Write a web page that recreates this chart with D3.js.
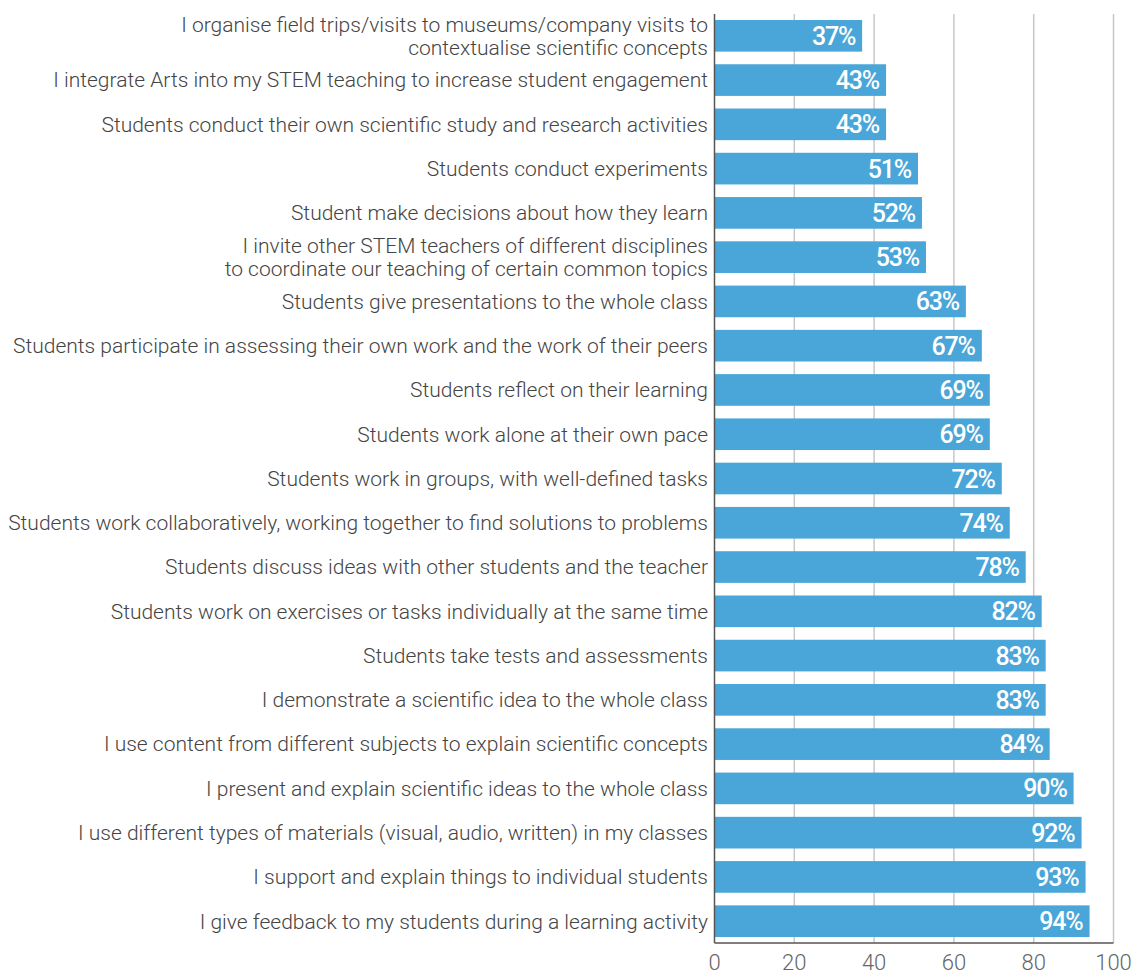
<!DOCTYPE html>
<html><head><meta charset="utf-8">
<script src="https://cdn.jsdelivr.net/npm/d3@7"></script>
<style>body{margin:0;background:#fff}svg{display:block}</style>
</head><body>
<svg id="c" width="1135" height="974"></svg>
<script>
const categories = [
  ["I organise field trips/visits to museums/company visits to","contextualise scientific concepts"],
  ["I integrate Arts into my STEM teaching to increase student engagement"],
  ["Students conduct their own scientific study and research activities"],
  ["Students conduct experiments"],
  ["Student make decisions about how they learn"],
  ["I invite other STEM teachers of different disciplines","to coordinate our teaching of certain common topics"],
  ["Students give presentations to the whole class"],
  ["Students participate in assessing their own work and the work of their peers"],
  ["Students reflect on their learning"],
  ["Students work alone at their own pace"],
  ["Students work in groups, with well-defined tasks"],
  ["Students work collaboratively, working together to find solutions to problems"],
  ["Students discuss ideas with other students and the teacher"],
  ["Students work on exercises or tasks individually at the same time"],
  ["Students take tests and assessments"],
  ["I demonstrate a scientific idea to the whole class"],
  ["I use content from different subjects to explain scientific concepts"],
  ["I present and explain scientific ideas to the whole class"],
  ["I use different types of materials (visual, audio, written) in my classes"],
  ["I support and explain things to individual students"],
  ["I give feedback to my students during a learning activity"]
];
const values = [37,43,43,51,52,53,63,67,69,69,72,74,78,82,83,83,84,90,92,93,94];
const ticks = [0,20,40,60,80,100];

const svg = d3.select("#c");
const x = d3.scaleLinear().domain([0,100]).range([714.5,1113.5]);
const y = d3.scaleBand().domain(d3.range(values.length)).range([14,943]).paddingInner(0.285).paddingOuter(0.135);

svg.append("g").selectAll("line").data(ticks.slice(1)).join("line")
  .attr("x1",d=>x(d)).attr("x2",d=>x(d)).attr("y1",14).attr("y2",943)
  .attr("stroke","#c8c8c8").attr("stroke-width",1.5);

svg.append("g").selectAll("rect").data(values).join("rect")
  .attr("x",x(0)).attr("y",(d,i)=>y(i)).attr("width",d=>x(d)-x(0)).attr("height",y.bandwidth())
  .attr("fill","#4aa6d8");

svg.append("g").selectAll("text").data(values).join("text")
  .attr("x",d=>x(d)-7).attr("y",(d,i)=>y(i)+y.bandwidth()/2)
  .attr("dy","0.36em").attr("text-anchor","end")
  .attr("fill","#fff").style("font-family","Roboto, sans-serif").style("font-weight",500)
  .style("font-size","25px").style("letter-spacing","-1.2px")
  .text(d=>d+"%");

svg.append("line").attr("x1",x(0)).attr("x2",x(0)).attr("y1",14).attr("y2",943).attr("stroke","#555").attr("stroke-width",1.5);
svg.append("line").attr("x1",x(0)).attr("x2",x(100)).attr("y1",943).attr("y2",943).attr("stroke","#555").attr("stroke-width",1.5);

svg.append("g").selectAll("text").data(ticks).join("text")
  .attr("x",d=>x(d)).attr("y",970).attr("text-anchor","middle")
  .attr("fill","#666").style("font-family","Roboto, sans-serif").style("font-weight",300)
  .style("font-size","22px").text(d=>d);

const lab = svg.append("g").selectAll("text").data(categories).join("text")
  .attr("text-anchor","end").attr("fill","#444")
  .style("font-family","Roboto, sans-serif").style("font-weight",300).style("font-size","21px");
lab.each(function(lines,i){
  const t=d3.select(this);
  const cy=y(i)+y.bandwidth()/2;
  lines.forEach((s,j)=>{
    t.append("tspan").attr("x",708).attr("y",cy+(j-(lines.length-1)/2)*23).attr("dy","0.35em").text(s);
  });
});
</script>
</body></html>
